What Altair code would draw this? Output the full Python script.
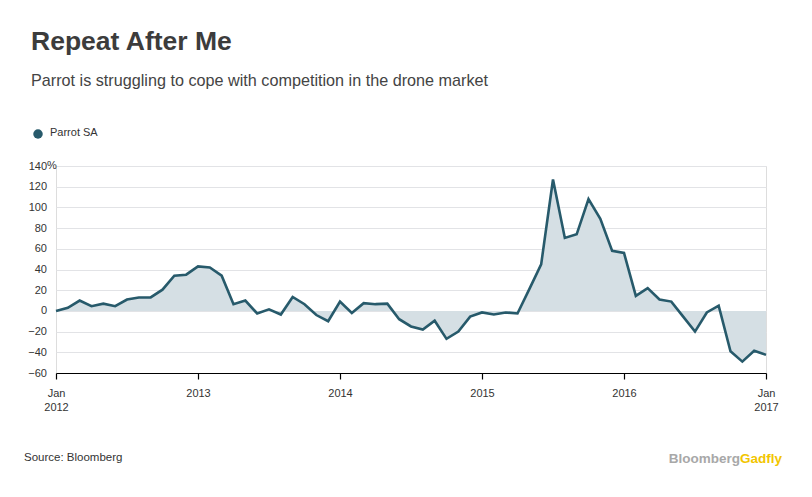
import altair as alt
import pandas as pd

# ---- data ----
months = [f"{y}-{m:02d}" for y in range(2012, 2017) for m in range(1, 13)] + ["2017-01"]
values = [
    0, 3, 10, 4.5, 7, 4.5, 11, 13, 13, 20.5, 34, 35,            # 2012
    43, 42, 34, 6.5, 10, -2.5, 1.5, -3.5, 13.5, 6.5, -4, -10,  # 2013
    9, -2, 7.5, 6.5, 7, -8, -15, -18, -9.5, -27, -20, -5.5,    # 2014
    -1.5, -3.5, -1.5, -2.5, 21, 45, 127, 70.5, 74, 108, 89, 58,  # 2015
    56, 14.5, 22, 11, 9, -5.5, -20, -1.5, 5, -39, -49, -38.5,  # 2016
    -42.5,                                                      # 2017
]
tick_months = ["2012-01", "2013-01", "2014-01", "2015-01", "2016-01", "2017-01"]
tick_labels = [["Jan", "2012"], ["2013"], ["2014"], ["2015"], ["2016"], ["Jan", "2017"]]
y_ticks = [-60, -40, -20, 0, 20, 40, 60, 80, 100, 120, 140]

series_name = "Parrot SA"
title_text = "Repeat After Me"
subtitle_text = "Parrot is struggling to cope with competition in the drone market"
source_text = "Source: Bloomberg"
logo_a, logo_b = "Bloomberg", "Gadfly"

df = pd.DataFrame({"month": months, "idx": list(range(len(months))), "value": values})

tick_idx = [months.index(m) for m in tick_months]
label_expr = " : ".join(
    f"datum.value == {i} ? {lab!r}" for i, lab in zip(tick_idx, tick_labels)
) + " : ''"

LINE = "#275a6b"
FILL = "#d5dfe4"
FONT = "Liberation Sans"
TXT = "#333333"

W, H = 710, 207

x_axis = alt.Axis(
    values=tick_idx, labelExpr=label_expr, title=None, grid=False,
    domainColor="#000000", domainWidth=1.2, tickColor="#000000", tickSize=6,
    tickWidth=1.2, labelPadding=8, labelFont=FONT, labelFontSize=11,
    labelColor=TXT, labelLineHeight=14, labelAlign="center", labelBaseline="top",
    labelOverlap=False,
)
y_axis = alt.Axis(
    values=y_ticks, title=None, domain=False, ticks=False, grid=True,
    gridColor="#e2e3e6", gridWidth=1, labelPadding=9.5, labelFont=FONT,
    labelFontSize=11, labelColor=TXT, labelOverlap=False, labelSeparation=0,
)
x_scale = alt.Scale(domain=[0, len(months) - 1], nice=False, zero=False)
y_scale = alt.Scale(domain=[-60, 140], nice=False, zero=False)

base = alt.Chart(df)
area = base.mark_area(color=FILL, opacity=1).encode(
    x=alt.X("idx:Q", scale=x_scale, axis=x_axis),
    y=alt.Y("value:Q", scale=y_scale, axis=y_axis),
    y2=alt.datum(0),
)
line = base.mark_line(color=LINE, strokeWidth=2.6, strokeJoin="miter").encode(
    x=alt.X("idx:Q", scale=x_scale, axis=x_axis),
    y=alt.Y("value:Q", scale=y_scale, axis=y_axis),
)

one = pd.DataFrame({"k": [0]})


def txt(text, x, y, size, weight="normal", color=TXT, align="left", font=FONT, baseline="alphabetic"):
    return alt.Chart(one).mark_text(
        text=text, align=align, baseline=baseline, font=font, fontSize=size,
        fontWeight=weight, color=color,
    ).encode(x=alt.value(x), y=alt.value(y))


ox, oy = 56, 166  # plot origin on the page
pct = txt("%", -9, 0, 11, baseline="middle")
title = txt(title_text, 31 - ox, 50 - oy, 26.5, "bold", "#3c3c3c")
subtitle = txt(subtitle_text, 31 - ox, 86 - oy, 16.2, color="#444444")
legend_dot = alt.Chart(one).mark_point(filled=True, shape="circle", size=90, color=LINE, opacity=1).encode(
    x=alt.value(38 - ox), y=alt.value(134 - oy))
legend_txt = txt(series_name, 50 - ox, 136 - oy, 11)
source = txt(source_text, 24 - ox, 461 - oy, 11.5)
logo1 = txt(logo_a, 740 - ox, 463 - oy, 13.5, "bold", "#a8a8a8", align="right")
logo2 = txt(logo_b, 740 - ox, 463 - oy, 13.5, "bold", "#f2c500", align="left")

chart = alt.layer(
    area, line, pct, title, subtitle, legend_dot, legend_txt, source, logo1, logo2
).properties(
    width=W, height=H,
    autosize=alt.AutoSizeParams(type="none"),
    padding={"left": 48, "top": 158, "right": 36, "bottom": 114},
).configure_view(stroke=None).configure(background="white")

chart.save("out.html", embed_options={"renderer": "svg", "actions": False})
